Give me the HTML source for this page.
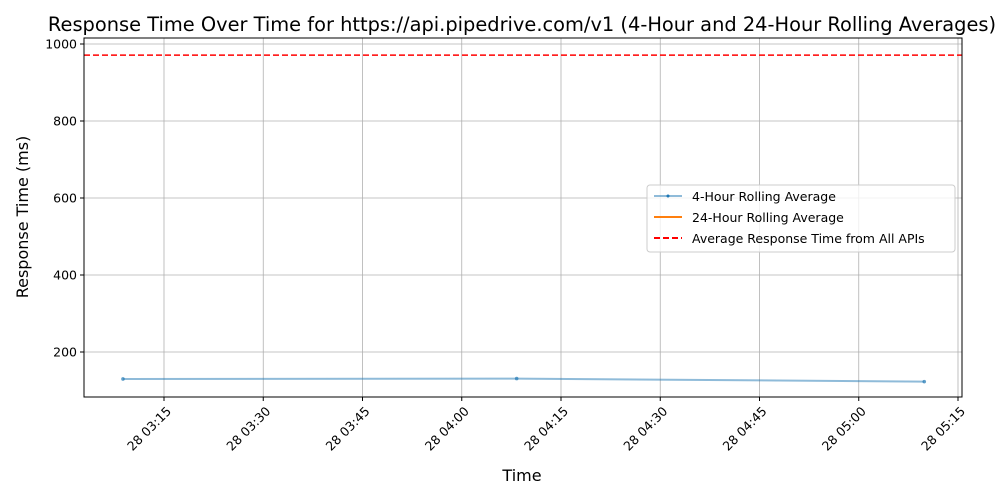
<!DOCTYPE html>
<html><head><meta charset="utf-8"><style>
body{margin:0;background:#fff;font-family:"DejaVu Sans","Liberation Sans",sans-serif}
</style></head><body>
<svg id="chart" width="1000" height="500" xmlns="http://www.w3.org/2000/svg" font-family="DejaVu Sans, Liberation Sans, sans-serif">
<rect width="1000" height="500" fill="#fff"/>
<text x="522" y="31" font-size="19.4" text-anchor="middle">Response Time Over Time for https://api.pipedrive.com/v1 (4-Hour and 24-Hour Rolling Averages)</text>
<g id="grid"></g><g id="series"></g>
<rect x="84" y="38" width="878" height="359" fill="none" stroke="#000" stroke-width="1"/>
<g id="ticks"></g>
<text x="522" y="481" font-size="16" text-anchor="middle">Time</text>
<text transform="translate(28,217) rotate(-90)" font-size="16" text-anchor="middle">Response Time (ms)</text>
<g>
<rect x="647" y="185" width="308" height="67" rx="3" fill="#fff" fill-opacity="0.8" stroke="#ccc"/>
<line x1="654" y1="196" x2="682" y2="196" stroke="#1f77b4" stroke-opacity="0.5" stroke-width="2"/><circle cx="668" cy="196" r="1.5" fill="#1f77b4"/>
<text x="692" y="201" font-size="12.5">4-Hour Rolling Average</text>
<line x1="654" y1="217" x2="682" y2="217" stroke="#ff7f0e" stroke-width="2"/>
<text x="692" y="222" font-size="12.5">24-Hour Rolling Average</text>
<line x1="654" y1="238" x2="682" y2="238" stroke="#f00" stroke-width="2" stroke-dasharray="6,3"/>
<text x="692" y="243" font-size="12.5">Average Response Time from All APIs</text>
</g>
</svg>
<script>
const yTicks=[200,400,600,800,1000];
const xTickMinutes=[195,210,225,240,255,270,285,300,315];
const xTickLabels=["28 03:15","28 03:30","28 03:45","28 04:00","28 04:15","28 04:30","28 04:45","28 05:00","28 05:15"];
const pointMinutes=[188.8,248.3,309.9];
const rolling4h=[130,131,123];
const allApiAverage=[971];
const NS="http://www.w3.org/2000/svg";
const X=m=>164+(m-195)*(99.25/15);
const Y=v=>429-v*0.385;
function mk(p,t,a){const e=document.createElementNS(NS,t);for(const k in a)e.setAttribute(k,a[k]);document.getElementById(p).appendChild(e);return e;}
yTicks.forEach(v=>{
 const g=mk('grid','line',{x1:84,x2:962,y1:Y(v),y2:Y(v),stroke:'#b0b0b0','stroke-width':0.8});
 
 
 mk('ticks','line',{x1:80,x2:84,y1:Y(v),y2:Y(v),stroke:'#000'});
 const t=mk('ticks','text',{x:77,y:Y(v)+4.5,'font-size':12.5,'text-anchor':'end'});t.textContent=v;
 
 
});
xTickMinutes.forEach((m,i)=>{
 const x=X(m);
 const g=mk('grid','line',{x1:x,x2:x,y1:38,y2:397,stroke:'#b0b0b0','stroke-width':0.8});
 
 
 mk('ticks','line',{x1:x,x2:x,y1:397,y2:401,stroke:'#000'});
 const t=mk('ticks','text',{x:x+8,y:412,'font-size':12.5,'text-anchor':'end',transform:`rotate(-45 ${x+8} 412)`});t.textContent=xTickLabels[i];
 
 
});
const pts=pointMinutes.map((m,i)=>X(m)+','+Y(rolling4h[i])).join(' ');
const pl=mk('series','polyline',{points:pts,fill:'none',stroke:'#1f77b4','stroke-opacity':0.5,'stroke-width':2});


pointMinutes.forEach((m,i)=>{const c=mk('series','circle',{cx:X(m),cy:Y(rolling4h[i]),r:1.8,fill:'#1f77b4','fill-opacity':0.7});
 
 });
const al=mk('series','line',{x1:84,x2:962,y1:Y(allApiAverage[0]),y2:Y(allApiAverage[0]),stroke:'#f00','stroke-width':1.5,'stroke-dasharray':'6,3'});


</script>
</body></html>
